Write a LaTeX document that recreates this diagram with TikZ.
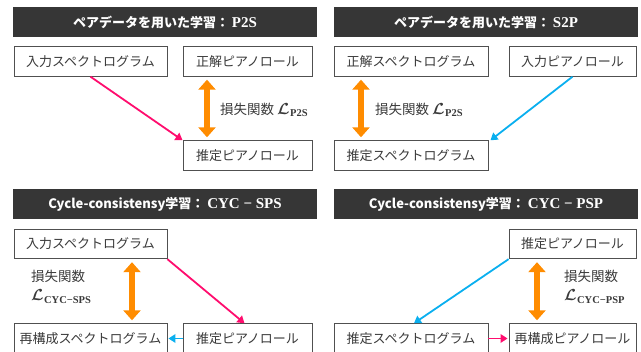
\documentclass[tikz,border=0pt]{standalone}
\usepackage{amsmath}
\usepackage{fontspec}
\newfontfamily\jp{Noto Sans CJK JP}
\newfontfamily\serifb{Liberation Serif}[BoldFont=* Bold]
\newcommand\lossL[1]{\scalebox{1.6}{\fontsize{10}{12}\selectfont$\boldsymbol{\mathcal{L}}$}\kern0.3pt\raisebox{-2.5pt}{\serifb\bfseries\fontsize{10.5}{11}\selectfont #1}}
\usetikzlibrary{arrows.meta}
\definecolor{barcol}{HTML}{363636}
\definecolor{txtcol}{HTML}{3A3A3A}
\definecolor{boxcol}{HTML}{505050}
\definecolor{pinkc}{HTML}{FF0D6E}
\definecolor{bluec}{HTML}{0AAFEF}
\definecolor{orangec}{HTML}{FF8C00}
\tikzset{
  titlebar/.style={fill=barcol, draw=none, text=white, minimum width=304pt, minimum height=30pt, inner sep=0pt, font=\jp\bfseries\fontsize{13}{15}\selectfont},
  box/.style={draw=boxcol, line width=0.9pt, fill=white, text=txtcol, minimum height=29.5pt, inner sep=0pt, font=\jp\fontsize{13}{15}\selectfont},
  lbl/.style={text=txtcol, inner sep=0pt, font=\jp\fontsize{13.5}{20}\selectfont},
  pinkarrow/.style={draw=pinkc, line width=1.8pt, -{Triangle[width=8.5pt,length=7pt]}},
  bluearrow/.style={draw=bluec, line width=1.8pt, -{Triangle[width=8.5pt,length=7pt]}},
  lossarrow/.style={draw=orangec, line width=6pt, {Triangle[width=17pt,length=10pt]}-{Triangle[width=17pt,length=10pt]}, shorten <=3pt, shorten >=3pt}
}
\newcommand\ttl[1]{{\serifb\bfseries\fontsize{15}{15}\selectfont #1}}
\begin{document}
\begin{tikzpicture}[x=1pt,y=-1pt]
\useasboundingbox (0,0) rectangle (641,352);
% ---------- panel 1
\node[titlebar] (t1) at (165,22) {ペアデータを用いた学習： \ttl{P2S}};
\node[box, minimum width=153pt] (in1) at (90.5,61.5) {入力スペクトログラム};
\node[box, minimum width=129pt] (gt1) at (247.5,61.5) {正解ピアノロール};
\node[box, minimum width=129pt] (es1) at (247.5,155.5) {推定ピアノロール};
\draw[pinkarrow] (in1.south) -- (es1.north west);
\draw[lossarrow] ([xshift=-40.5pt]gt1.south) -- ([xshift=-40.5pt]es1.north);
\node[lbl, anchor=west] (l1) at (220,110) {損失関数 \lossL{P2S}};
% ---------- panel 2
\node[titlebar] (t2) at (486,22) {ペアデータを用いた学習： \ttl{S2P}};
\node[box, minimum width=154pt] (gt2) at (411,61.5) {正解スペクトログラム};
\node[box, minimum width=127pt] (in2) at (572.5,61.5) {入力ピアノロール};
\node[box, minimum width=154pt] (es2) at (411,155.5) {推定スペクトログラム};
\draw[bluearrow] (in2.south) -- ([xshift=2pt]es2.north east);
\draw[lossarrow] ([xshift=-50pt]gt2.south) -- ([xshift=-50pt]es2.north);
\node[lbl, anchor=west] (l2) at (375,110) {損失関数 \lossL{P2S}};
% ---------- panel 3
\node[titlebar] (t3) at (165,204) {Cycle-consistensy学習： \ttl{CYC − SPS}};
\node[box, minimum width=153pt] (in3) at (90.5,244) {入力スペクトログラム};
\node[box, minimum width=153pt] (rc3) at (90.5,338.5) {再構成スペクトログラム};
\node[box, minimum width=129pt] (es3) at (247.5,338.5) {推定ピアノロール};
\draw[pinkarrow] (in3.south east) -- ([xshift=-3pt]es3.north);
\draw[bluearrow, shorten >=1pt] (es3.west) -- (rc3.east);
\draw[lossarrow] ([xshift=41.5pt]in3.south) -- ([xshift=41.5pt]rc3.north);
\node[lbl, anchor=north west, align=left] (l3) at (31,270) {損失関数\\[-1pt]\lossL{CYC−SPS}};
% ---------- panel 4
\node[titlebar] (t4) at (486,204) {Cycle-consistensy学習： \ttl{CYC − PSP}};
\node[box, minimum width=127pt] (es4p) at (572.5,244) {推定ピアノロール};
\node[box, minimum width=154pt] (es4s) at (411,338.5) {推定スペクトログラム};
\node[box, minimum width=127pt] (rc4) at (572.5,338.5) {再構成ピアノロール};
\draw[bluearrow] (es4p.south west) -- ([xshift=3pt]es4s.north);
\draw[pinkarrow, shorten >=1pt] (es4s.east) -- (rc4.west);
\draw[lossarrow] ([xshift=-35.5pt]es4p.south) -- ([xshift=-35.5pt]rc4.north);
\node[lbl, anchor=north west, align=left] (l4) at (564,270) {損失関数\\[-1pt]\lossL{CYC−PSP}};
\end{tikzpicture}
\end{document}
